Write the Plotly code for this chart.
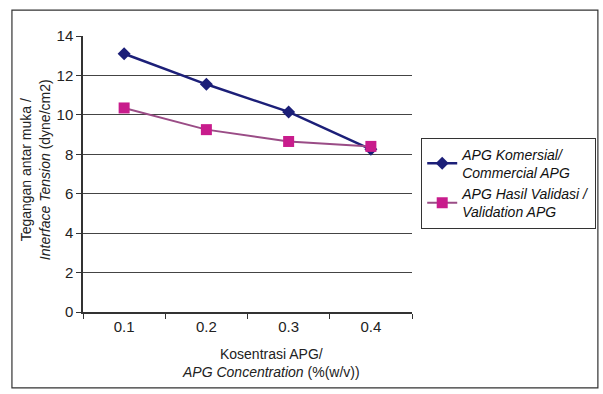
import plotly.graph_objects as go

categories = ["0.1", "0.2", "0.3", "0.4"]
commercial = [13.1, 11.55, 10.15, 8.25]
validation = [10.35, 9.25, 8.65, 8.4]
y_ticks = [0, 2, 4, 6, 8, 10, 12, 14]

font_family = "Arial, Liberation Sans, sans-serif"

fig = go.Figure()
fig.add_trace(go.Scatter(
    x=categories, y=commercial, mode="lines+markers",
    name="APG Komersial/<br>Commercial APG",
    line=dict(color="#1c1f78", width=2.5),
    marker=dict(symbol="diamond", size=10, color="#1c1f78"),
))
fig.add_trace(go.Scatter(
    x=categories, y=validation, mode="lines+markers",
    name="APG Hasil Validasi /<br>Validation APG",
    line=dict(color="#9a4c86", width=2),
    marker=dict(symbol="square", size=11, color="#c81c8c"),
))

fig.update_layout(
    width=603, height=394,
    margin=dict(l=83, r=191, t=36, b=82, autoexpand=False),
    paper_bgcolor="white", plot_bgcolor="white",
    font=dict(family=font_family, size=14, color="#222"),
    showlegend=True,
    legend=dict(
        x=1.028, y=0.632, xanchor="left", yanchor="top",
        bordercolor="#333", borderwidth=1, bgcolor="white",
        font=dict(size=14, color="#111", style="italic"),
        tracegroupgap=0, itemwidth=30,
    ),
)
fig.update_xaxes(
    type="category", range=[-0.5, 3.5],
    showgrid=False, showline=True, linecolor="#333", linewidth=1.5,
    ticks="outside", tickson="boundaries", ticklen=5, tickcolor="#333",
    tickfont=dict(size=15),
)
fig.update_yaxes(
    range=[0, 14], tickvals=y_ticks,
    showgrid=True, gridcolor="#444", gridwidth=1,
    showline=True, linecolor="#333", linewidth=1.5,
    ticks="outside", ticklen=5, tickcolor="#333",
    tickfont=dict(size=15), zeroline=False,
)

fig.add_annotation(
    text="Tegangan antar muka /<br><i>Interface Tension</i> (dyne/cm2)",
    xref="paper", yref="paper", x=-0.145, y=0.515,
    textangle=-90, showarrow=False, font=dict(size=14),
    xanchor="center", yanchor="middle",
)
fig.add_annotation(
    text="Kosentrasi APG/<br><i>APG Concentration</i> (%(w/v))",
    xref="paper", yref="paper", x=0.57, y=-0.115,
    showarrow=False, font=dict(size=14),
    xanchor="center", yanchor="top",
)
fig.add_shape(
    type="rect", xref="paper", yref="paper",
    x0=-0.216, x1=1.565, y0=-0.275, y1=1.094,
    line=dict(color="#333", width=1.2), layer="below",
)

fig.write_html("out.html")
